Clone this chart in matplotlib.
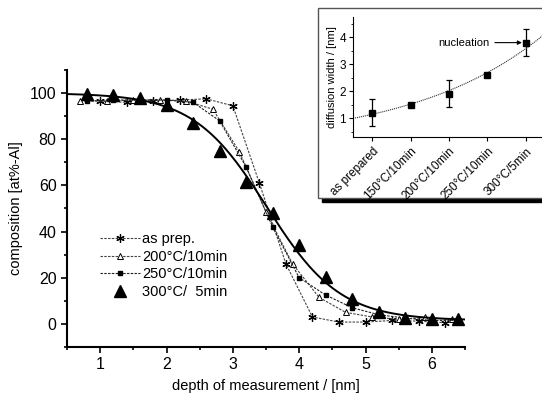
import numpy as np
import matplotlib
matplotlib.use("Agg")
import matplotlib.pyplot as plt
from matplotlib.patches import Rectangle

plt.rcParams['font.family'] = ['Liberation Sans', 'DejaVu Sans']

# ---- main panel data ----
depth_asprep = [1.0, 1.4, 1.8, 2.2, 2.6, 3.0, 3.4, 3.8, 4.2, 4.6, 5.0, 5.4, 5.8, 6.2]
comp_asprep = [96.5, 96, 96.5, 97, 97.5, 94.5, 61, 26, 3, 0.8, 0.8, 1.5, 1.2, 0.5]

depth_200 = [0.7, 1.1, 1.5, 1.9, 2.3, 2.7, 3.1, 3.5, 3.9, 4.3, 4.7, 5.1, 5.5, 5.9, 6.3]
comp_200 = [96.5, 96.5, 97, 97, 96.5, 93, 74.5, 48.5, 26, 11.5, 5, 3, 2, 2.8, 2]

depth_250 = [0.8, 1.2, 1.6, 2.0, 2.4, 2.8, 3.2, 3.6, 4.0, 4.4, 4.8, 5.2, 5.6, 6.0, 6.4]
comp_250 = [96.5, 97, 97, 97, 96, 88, 68, 42, 20, 12.5, 7, 4, 2.5, 1.5, 1.5]

depth_300 = [0.8, 1.2, 1.6, 2.0, 2.4, 2.8, 3.2, 3.6, 4.0, 4.4, 4.8, 5.2, 5.6, 6.0, 6.4]
comp_300 = [99.5, 99, 98, 95, 87, 75, 61.5, 48, 34, 20.5, 11, 5, 2.6, 2.2, 2]

legend_labels = ["as prep.", "200°C/10min", "250°C/10min", "300°C/  5min"]

# ---- inset data ----
inset_cats = ["as prepared", "150°C/10min", "200°C/10min", "250°C/10min", "300°C/5min"]
inset_width = [1.2, 1.5, 1.9, 2.6, 3.8]
inset_err = [0.5, 0.0, 0.5, 0.0, 0.5]

fig = plt.figure(figsize=(5.42, 3.99), dpi=100)
ax = fig.add_axes([0.1236, 0.1303, 0.7344, 0.6943])

dash = (0, (2.2, 1.2))
ax.plot(depth_asprep, comp_asprep, linestyle=dash, color='#444444', lw=0.8,
        marker=(6, 2, 0), ms=6, mew=0.9, mec='black', label=legend_labels[0])
ax.plot(depth_200, comp_200, linestyle=dash, color='#444444', lw=0.8,
        marker='^', ms=4, mfc='white', mec='black', mew=0.7, label=legend_labels[1])
ax.plot(depth_250, comp_250, linestyle=dash, color='#222222', lw=0.8,
        marker='s', ms=3.5, mfc='black', mec='black', label=legend_labels[2])
ax.plot(depth_300, comp_300, linestyle='none', marker='^', ms=8.5,
        color='black', label=legend_labels[3])

# Boltzmann fit to the 300°C data (linearised logit regression)
A1, A2 = 100.0, 1.5
d = np.array(depth_300)
c = np.array(comp_300)
sel = (c > 4) & (c < 97)
yl = np.log((A1 - c[sel]) / (c[sel] - A2))
slope, icpt = np.polyfit(d[sel], yl, 1)
xf = np.linspace(0.5, 6.5, 300)
ax.plot(xf, A2 + (A1 - A2) / (1 + np.exp(slope * xf + icpt)), color='black', lw=1.4)

ax.set_xlim(0.5, 6.5)
ax.set_ylim(-10, 110)
ax.set_xticks([1, 2, 3, 4, 5, 6])
ax.set_xticks(np.arange(0.5, 6.6, 0.5), minor=True)
ax.set_yticks([0, 20, 40, 60, 80, 100])
ax.set_yticks(np.arange(-10, 111, 10), minor=True)
ax.tick_params(which='major', direction='out', length=4, width=1.2, labelsize=11.5)
ax.tick_params(which='minor', direction='out', length=2.5, width=1.2)
for s in ['top', 'right']:
    ax.spines[s].set_visible(False)
for s in ['left', 'bottom']:
    ax.spines[s].set_linewidth(1.5)
ax.set_xlabel("depth of measurement / [nm]", fontsize=10.5, labelpad=5)
ax.set_ylabel("composition [at%-Al]", fontsize=10.5, labelpad=5)

leg = ax.legend(loc='upper left', bbox_to_anchor=(0.068, 0.436), frameon=False,
                fontsize=10.5, handlelength=2.75, handletextpad=0.15,
                labelspacing=0.25, borderaxespad=0)

# ---- inset frame with shadow ----
fx0, fy0, fw, fh = 0.5867, 0.5038, 0.45, 0.4762
fig.patches.append(Rectangle((fx0 + 0.008, fy0 - 0.010), fw, fh, transform=fig.transFigure,
                             facecolor='black', edgecolor='black', zorder=1))
fig.patches.append(Rectangle((fx0, fy0), fw, fh, transform=fig.transFigure,
                             facecolor='white', edgecolor='#555555', lw=1.0, zorder=2))

ins = fig.add_axes([0.6513, 0.6566, 0.3542, 0.3008])
ins.set_zorder(5)
ins.patch.set_alpha(0)
xi = np.arange(len(inset_cats))
ins.errorbar(xi, inset_width, yerr=inset_err, fmt='s', color='black', ms=5,
             capsize=2.5, elinewidth=0.9, capthick=0.9)
# exponential fit (log-linear regression)
k, lna = np.polyfit(xi, np.log(inset_width), 1)
xx = np.linspace(-0.5, 4.5, 200)
ins.plot(xx, np.exp(lna + k * xx), linestyle=(0, (1, 0.8)), color='#333333', lw=0.8)
ins.set_xlim(-0.5, 4.5)
ins.set_ylim(0.3, 4.75)
ins.set_yticks([1, 2, 3, 4])
ins.set_yticks(np.arange(0.5, 4.6, 0.5), minor=True)
ins.set_xticks(xi)
ins.set_xticklabels(inset_cats, rotation=45, ha='right', rotation_mode='anchor', fontsize=8)
ins.tick_params(which='major', direction='out', length=3, labelsize=8.5, pad=2)
ins.tick_params(which='minor', direction='out', length=1.5)
ins.tick_params(axis='x', pad=3)
for s in ['top', 'right']:
    ins.spines[s].set_visible(False)
ins.set_ylabel("diffusion width / [nm]", fontsize=8, labelpad=2)
ins.annotate("nucleation", xy=(3.9, 3.8), xytext=(3.05, 3.8),
             fontsize=8, va='center', ha='right',
             arrowprops=dict(arrowstyle='-|>', color='black', lw=0.8,
                             mutation_scale=6, shrinkA=2, shrinkB=0))

fig.savefig("out.png", dpi=100)
